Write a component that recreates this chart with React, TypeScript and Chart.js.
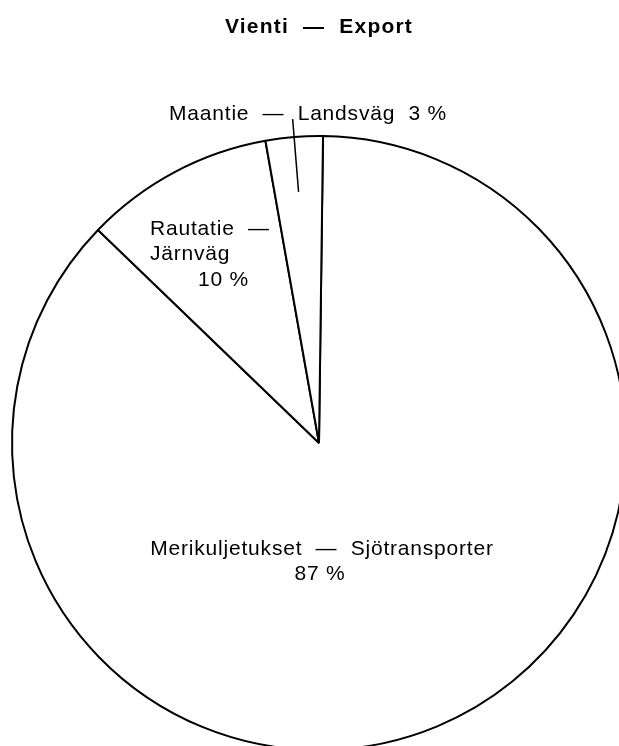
import React, { useEffect, useRef } from 'react';
import { Chart, registerables } from 'chart.js';

Chart.register(...registerables);

// ---- Data ----
const chartTitle = 'Vienti  —  Export';
const categories = ['Merikuljetukset  —  Sjötransporter', 'Rautatie  —  Järnväg', 'Maantie  —  Landsväg'];
const shares = [87, 10, 3];
const seaLines = ['Merikuljetukset  —  Sjötransporter', `${shares[0]} %`];
const railLines = ['Rautatie  —', 'Järnväg', `${shares[1]} %`];
const roadLines = [`Maantie  —  Landsväg  ${shares[2]} %`];

const FONT = '"Liberation Sans", Arial, Helvetica, sans-serif';

const labelPlugin = {
  id: 'pieLabels',
  afterDraw(chart: any) {
    const ctx = chart.ctx;
    const meta = chart.getDatasetMeta(0);
    if (!meta || !meta.data.length) return;
    const a0 = meta.data[0].getProps(['x', 'y', 'outerRadius'], true);
    const cx = a0.x;
    const cy = a0.y;
    ctx.save();
    ctx.fillStyle = '#000';
    ctx.strokeStyle = '#000';

    // title
    try { (ctx as any).letterSpacing = '1.2px'; } catch (e) {}
    ctx.font = `bold 21px ${FONT}`;
    ctx.textAlign = 'center';
    ctx.textBaseline = 'alphabetic';
    ctx.fillText(chartTitle, cx, 33);

    try { (ctx as any).letterSpacing = '0.8px'; } catch (e) {}
    ctx.font = `21px ${FONT}`;
    // road label
    ctx.textAlign = 'center';
    ctx.fillText(roadLines[0], cx - 11, cy - 323);

    // rail label
    ctx.textAlign = 'left';
    ctx.fillText(railLines[0], cx - 169, cy - 208);
    ctx.fillText(railLines[1], cx - 169, cy - 183);
    ctx.fillText(railLines[2], cx - 121, cy - 157);

    // sea label
    ctx.textAlign = 'center';
    ctx.fillText(seaLines[0], cx + 3, cy + 112);
    ctx.fillText(seaLines[1], cx + 1, cy + 137);

    // leader line for road slice
    const road = meta.data[2].getProps(['startAngle', 'endAngle'], true);
    const mid = (road.startAngle + road.endAngle) / 2;
    ctx.lineWidth = 1.5;
    ctx.beginPath();
    ctx.moveTo(cx + 252 * Math.cos(mid), cy + 252 * Math.sin(mid));
    ctx.lineTo(cx + 325 * Math.cos(mid), cy + 325 * Math.sin(mid));
    ctx.stroke();
    ctx.restore();
  },
};

export default function App() {
  const canvasRef = useRef<HTMLCanvasElement | null>(null);

  useEffect(() => {
    const canvas = canvasRef.current;
    if (!canvas) return;
    const chart = new Chart(canvas, {
      type: 'pie',
      data: {
        labels: categories,
        datasets: [
          {
            data: shares,
            backgroundColor: '#ffffff',
            borderColor: '#000000',
            borderWidth: 2,
            hoverOffset: 0,
          },
        ],
      },
      options: {
        responsive: false,
        animation: false,
        events: [],
        radius: 307,
        rotation: 0.75,
        layout: { padding: 0 },
        plugins: {
          legend: { display: false },
          tooltip: { enabled: false },
          title: { display: false },
        },
      } as any,
      plugins: [labelPlugin],
    });
    return () => chart.destroy();
  }, []);

  return (
    <div
      style={{
        position: 'fixed',
        left: 0,
        top: 0,
        width: 619,
        height: 746,
        overflow: 'hidden',
        background: '#fff',
      }}
    >
      <canvas
        ref={canvasRef}
        width={700}
        height={886}
        style={{ position: 'absolute', left: -31, top: 0, width: 700, height: 886 }}
      />
    </div>
  );
}
